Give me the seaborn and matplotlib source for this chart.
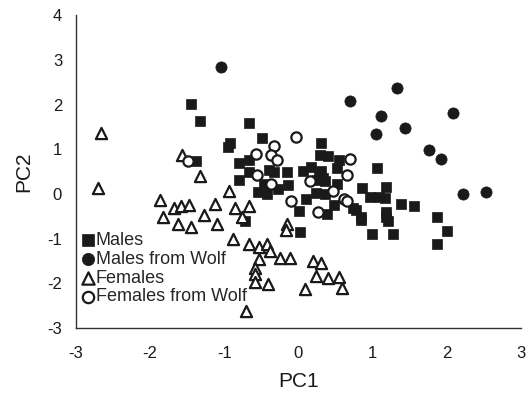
import matplotlib
matplotlib.use('Agg')

import pandas as pd
import matplotlib.pyplot as plt
import seaborn as sns

# Males (filled squares)
males_x = [-1.45, -1.33, -0.67, -0.92, -0.95, -0.49, 0.30, 0.29, 0.40, 0.55,
           -1.38, -0.80, -0.67, -0.67, -0.40, -0.33, -0.16, 0.06, 0.17, 0.31,
           0.52, 1.06, -0.80, -0.46, -0.14, -0.28, -0.55, -0.43, 0.25, 0.36,
           0.52, 0.23, 0.36, 0.10, 0.85, 1.18, 0.97, 1.09, 1.17, 1.38,
           1.56, 0.48, 0.01, 0.38, 0.73, 0.78, 0.84, 0.84, 1.18, 1.18,
           1.21, -0.72, 0.02, 0.99, 1.27, 1.87, 2.00, 1.87, 0.28, 0.33]
males_y = [2.01, 1.64, 1.58, 1.15, 1.04, 1.25, 1.13, 0.87, 0.84, 0.77,
           0.73, 0.69, 0.76, 0.49, 0.54, 0.48, 0.49, 0.51, 0.60, 0.51,
           0.59, 0.57, 0.31, 0.22, 0.19, 0.12, 0.05, 0.00, 0.31, 0.28,
           0.22, 0.03, 0.00, -0.11, 0.14, 0.16, -0.06, -0.06, -0.10, -0.23,
           -0.28, -0.25, -0.38, -0.46, -0.32, -0.36, -0.51, -0.58, -0.40, -0.51,
           -0.60, -0.60, -0.86, -0.90, -0.90, -0.52, -0.83, -1.12, 0.40, 0.35]

# Males from Wolf (filled circles)
males_wolf_x = [-1.04, 0.69, 1.33, 1.11, 2.08, 1.44, 1.05, 1.76, 1.92, 2.22, 2.53]
males_wolf_y = [2.85, 2.07, 2.37, 1.75, 1.80, 1.47, 1.34, 0.99, 0.79, 0.00, 0.04]

# Females (open triangles)
females_x = [-2.66, -2.71, -1.57, -1.33, -0.94, -1.87, -1.68, -1.58, -1.47, -1.83,
             -1.13, -1.28, -1.63, -1.45, -1.10, -0.86, -0.67, -0.76, -0.16, -0.17,
             -0.88, -0.67, -0.53, -0.43, -0.39, -0.53, -0.25, -0.11, -0.58, -0.58,
             -0.58, -0.41, 0.20, 0.31, 0.23, 0.40, 0.55, 0.58, 0.09, -0.71]
females_y = [1.36, 0.13, 0.87, 0.39, 0.07, -0.13, -0.31, -0.26, -0.25, -0.51,
             -0.23, -0.47, -0.67, -0.75, -0.67, -0.32, -0.27, -0.52, -0.68, -0.81,
             -1.01, -1.13, -1.18, -1.13, -1.27, -1.46, -1.44, -1.43, -1.66, -1.79,
             -1.96, -2.02, -1.51, -1.54, -1.84, -1.89, -1.85, -2.11, -2.13, -2.63]

# Females from Wolf (open circles)
females_wolf_x = [-0.04, -0.33, -0.57, -0.37, -0.29, -1.49, -0.56, 0.69, 0.66, -0.37,
                  0.16, 0.47, -0.10, 0.61, 0.65, 0.26]
females_wolf_y = [1.28, 1.07, 0.90, 0.88, 0.76, 0.73, 0.43, 0.78, 0.43, 0.22,
                  0.30, 0.07, -0.16, -0.12, -0.16, -0.41]

males = pd.DataFrame({'PC1': males_x, 'PC2': males_y})
males_wolf = pd.DataFrame({'PC1': males_wolf_x, 'PC2': males_wolf_y})
females = pd.DataFrame({'PC1': females_x, 'PC2': females_y})
females_wolf = pd.DataFrame({'PC1': females_wolf_x, 'PC2': females_wolf_y})

sns.set_style('white')
plt.rcParams['font.family'] = ['Liberation Sans', 'DejaVu Sans']
plt.rcParams['axes.unicode_minus'] = False

fig = plt.figure(figsize=(5.3, 3.99), dpi=100)
ax = fig.add_axes([0.1434, 0.178, 0.8396, 0.784])

sns.scatterplot(data=males, x='PC1', y='PC2', marker='s', s=55,
                color='#1a1a1a', edgecolor='#1a1a1a', linewidth=0.5,
                label='Males', ax=ax, zorder=3)
sns.scatterplot(data=males_wolf, x='PC1', y='PC2', marker='o', s=65,
                color='#1a1a1a', edgecolor='#1a1a1a', linewidth=0.5,
                label='Males from Wolf', ax=ax, zorder=3)
sns.scatterplot(data=females, x='PC1', y='PC2', marker='^', s=65,
                facecolor='white', edgecolor='#1a1a1a', linewidth=1.6,
                label='Females', ax=ax, zorder=3)
sns.scatterplot(data=females_wolf, x='PC1', y='PC2', marker='o', s=55,
                facecolor='white', edgecolor='#1a1a1a', linewidth=1.6,
                label='Females from Wolf', ax=ax, zorder=3)

ax.set_xlim(-3, 3)
ax.set_ylim(-3, 4)
ax.set_xticks(range(-3, 4))
ax.set_yticks(range(-3, 5))
ax.tick_params(direction='out', length=3, width=1, colors='#333333',
               labelsize=12, labelcolor='#1a1a1a')
ax.tick_params(axis='x', pad=10)
ax.tick_params(axis='y', pad=7)

for side in ['top', 'right']:
    ax.spines[side].set_visible(False)
for side in ['left', 'bottom']:
    ax.spines[side].set_color('#333333')
    ax.spines[side].set_linewidth(1)

ax.set_xlabel('PC1', fontsize=15, color='#1a1a1a', labelpad=8)
ax.set_ylabel('PC2', fontsize=15, color='#1a1a1a', labelpad=10)

ax.legend(loc='lower left', bbox_to_anchor=(0.0, 0.055), frameon=False,
          borderpad=0, handletextpad=0.1, labelspacing=0.1, handlelength=0.7,
          borderaxespad=0.3, fontsize=13, markerscale=1.1)

fig.savefig('out.png', dpi=100)
plt.close()
